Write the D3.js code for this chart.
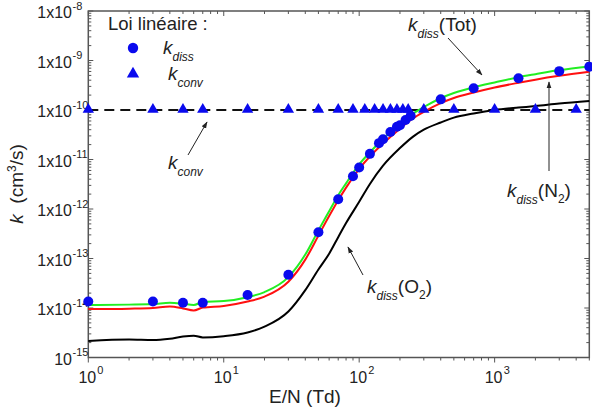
<!DOCTYPE html>
<html>
<head>
<meta charset="utf-8">
<script src="https://cdn.jsdelivr.net/npm/d3@7"></script>
<style>
  body { margin: 0; background: #fff; }
  svg { font-family: Arial, "Liberation Sans", sans-serif; }
</style>
</head>
<body>
<div id="chart"></div>
<script>
// E/N (Td) grid for the computed curves
var en_curve = [1, 2, 3, 4, 5, 6, 7, 10, 15, 20, 30, 40, 50, 60, 70, 80, 100, 120, 150, 200, 250, 300, 400, 500, 700, 1000, 1500, 2000, 3000, 5000];
var k_tot = [1.15e-14, 1.17e-14, 1.2e-14, 1.28e-14, 1.22e-14, 1.15e-14, 1.32e-14, 1.38e-14, 1.65e-14, 2.1e-14, 4.2e-14, 1.2e-13, 3.7e-13, 9e-13, 1.9e-12, 3.3e-12, 8e-12, 1.4e-11, 2.6e-11, 5.2e-11, 8.5e-11, 1.15e-10, 1.73e-10, 2.2e-10, 2.88e-10, 3.6e-10, 4.6e-10, 5.3e-10, 6.4e-10, 7.6e-10];
var k_n2 = [9.5e-15, 9.7e-15, 1.0e-14, 1.07e-14, 9.8e-15, 8.9e-15, 1.02e-14, 1.1e-14, 1.35e-14, 1.7e-14, 3.4e-14, 9.5e-14, 2.9e-13, 7.2e-13, 1.5e-12, 2.7e-12, 6.5e-12, 1.15e-11, 2.1e-11, 4.2e-11, 6.8e-11, 9.2e-11, 1.38e-10, 1.75e-10, 2.25e-10, 2.85e-10, 3.55e-10, 4.1e-10, 4.9e-10, 5.9e-10];
var k_o2 = [2.15e-15, 2.3e-15, 2.25e-15, 2.4e-15, 2.65e-15, 2.75e-15, 2.55e-15, 2.7e-15, 3.2e-15, 4.2e-15, 8.5e-15, 2.3e-14, 6e-14, 1.25e-13, 2.7e-13, 5.2e-13, 1.4e-12, 3.2e-12, 7.5e-12, 1.7e-11, 2.9e-11, 4e-11, 5.6e-11, 7e-11, 8.5e-11, 1.0e-10, 1.12e-10, 1.2e-10, 1.35e-10, 1.52e-10];

// linear law points
var en_diss = [1, 3, 5, 7, 15, 30, 50, 70, 90, 100, 120, 140, 150, 170, 190, 200, 220, 240, 400, 700, 1500, 3000, 5000];
var k_diss = [1.35e-14, 1.35e-14, 1.28e-14, 1.28e-14, 1.83e-14, 4.7e-14, 3.4e-13, 1.58e-12, 4.6e-12, 6.9e-12, 1.3e-11, 2.14e-11, 2.57e-11, 3.6e-11, 4.6e-11, 4.9e-11, 6.3e-11, 7.6e-11, 1.64e-10, 2.76e-10, 4.37e-10, 6.1e-10, 7.5e-10];
var en_conv = [1, 3, 5, 7, 15, 30, 50, 70, 90, 110, 130, 150, 170, 190, 210, 230, 300, 500, 1000, 2000, 4000];
var k_conv = en_conv.map(function(){ return 1e-10; });

var x_ticks = [1, 10, 100, 1000];
var x_tick_exp = ["0", "1", "2", "3"];
var y_ticks = [1e-15, 1e-14, 1e-13, 1e-12, 1e-11, 1e-10, 1e-9, 1e-8];
var y_tick_base = ["10", "1x10", "1x10", "1x10", "1x10", "1x10", "1x10", "1x10"];
var y_tick_exp = ["-15", "-14", "-13", "-12", "-11", "-10", "-9", "-8"];

var width = 592, height = 408;
var pl = 88.3, pr = 589.3, pt = 11, pb = 357.5;

var svg = d3.select("#chart").append("svg")
  .attr("width", width)
  .attr("height", height);

var x = d3.scaleLog().domain([1, 5000]).range([pl, pr]);
var y = d3.scaleLog().domain([1e-15, 1e-8]).range([pb, pt]);

function zip(xs, ys){ return xs.map(function(v, i){ return [v, ys[i]]; }); }

var line = d3.line()
  .x(function(d){ return x(d[0]); })
  .y(function(d){ return y(d[1]); })
  .curve(d3.curveMonotoneX);

// minor + major ticks, inward
var frameColor = "#555";
var g_ax = svg.append("g");
var xminor = [];
for (var dec = 1; dec <= 1000; dec *= 10)
  for (var m = 1; m < 10; m++) if (dec * m <= 5000) xminor.push(dec * m);
xminor.forEach(function(v){
  var major = x_ticks.indexOf(v) >= 0;
  var len = major ? 5 : 3;
  g_ax.append("line").attr("x1", x(v)).attr("x2", x(v)).attr("y1", pb).attr("y2", pb + len)
    .attr("stroke", frameColor).attr("stroke-width", 1);
  g_ax.append("line").attr("x1", x(v)).attr("x2", x(v)).attr("y1", pt).attr("y2", pt + len)
    .attr("stroke", frameColor).attr("stroke-width", 1);
});
var yminor = [];
y_ticks.forEach(function(t, i){
  if (i == y_ticks.length - 1) { yminor.push(t); return; }
  for (var m = 1; m < 10; m++) yminor.push(t * m);
});
yminor.forEach(function(v){
  var major = Math.abs(Math.log10(v) - Math.round(Math.log10(v))) < 1e-6;
  var len = major ? 5 : 3;
  g_ax.append("line").attr("x1", pl).attr("x2", pl + len).attr("y1", y(v)).attr("y2", y(v))
    .attr("stroke", frameColor).attr("stroke-width", 1);
  g_ax.append("line").attr("x1", pr).attr("x2", pr - len).attr("y1", y(v)).attr("y2", y(v))
    .attr("stroke", frameColor).attr("stroke-width", 1);
});

svg.append("rect")
  .attr("x", pl).attr("y", pt)
  .attr("width", pr - pl).attr("height", pb - pt)
  .attr("fill", "none").attr("stroke", frameColor).attr("stroke-width", 1.5);

// tick labels
x_ticks.forEach(function(v, i){
  svg.append("text").attr("x", x(v) - 1).attr("y", 383)
    .attr("text-anchor", "middle").attr("font-size", 16).attr("fill", "#222").text("10");
  svg.append("text").attr("x", x(v) + 9).attr("y", 374)
    .attr("font-size", 11).attr("fill", "#222").text(x_tick_exp[i]);
});
y_ticks.forEach(function(v, i){
  svg.append("text").attr("x", 72).attr("y", y(v) + 7)
    .attr("text-anchor", "end").attr("font-size", 16).attr("fill", "#222").text(y_tick_base[i]);
  svg.append("text").attr("x", 72.5).attr("y", y(v) - 1.5)
    .attr("font-size", 11).attr("fill", "#222").text(y_tick_exp[i]);
});

// axis titles
svg.append("text").attr("x", 305).attr("y", 403)
  .attr("text-anchor", "middle").attr("font-size", 19).attr("fill", "#222").text("E/N (Td)");
var yt = svg.append("text")
  .attr("transform", "translate(23,184) rotate(-90)")
  .attr("text-anchor", "middle").attr("font-size", 19).attr("fill", "#222");
yt.append("tspan").attr("font-style", "italic").text("k");
yt.append("tspan").text("\u00a0 (cm");
yt.append("tspan").attr("font-size", 12).attr("dy", -7).text("3");
yt.append("tspan").attr("dy", 7).text("/s)");

// dashed k_conv level
svg.append("line")
  .attr("x1", pl).attr("x2", pr)
  .attr("y1", y(1e-10)).attr("y2", y(1e-10))
  .attr("stroke", "#111").attr("stroke-width", 2).attr("stroke-dasharray", "10,6");

var curves = [
  {data: zip(en_curve, k_o2), color: "#000"},
  {data: zip(en_curve, k_n2), color: "#ff1010"},
  {data: zip(en_curve, k_tot), color: "#22ee22"}
];
svg.selectAll("path.curve")
  .data(curves)
  .enter().append("path")
  .attr("class", "curve")
  .attr("d", function(d){ return line(d.data); })
  .attr("fill", "none")
  .attr("stroke", function(d){ return d.color; })
  .attr("stroke-width", 2);

var blue = "#0a0aee";
var tri = d3.symbol().type(d3.symbolTriangle).size(56);
svg.append("g").selectAll("path")
  .data(zip(en_conv, k_conv))
  .enter().append("path")
  .attr("d", tri)
  .attr("transform", function(d){ return "translate(" + x(d[0]) + "," + (y(d[1]) - 0.5) + ")"; })
  .attr("fill", blue);

svg.append("g").selectAll("circle")
  .data(zip(en_diss, k_diss))
  .enter().append("circle")
  .attr("cx", function(d){ return x(d[0]); })
  .attr("cy", function(d){ return y(d[1]); })
  .attr("r", 5)
  .attr("fill", blue);

// legend
svg.append("text").attr("x", 108).attr("y", 30).attr("font-size", 18.5).attr("fill", "#222").text("Loi linéaire :");
svg.append("circle").attr("cx", 133).attr("cy", 48).attr("r", 5.2).attr("fill", blue);
svg.append("path").attr("d", d3.symbol().type(d3.symbolTriangle).size(66))
  .attr("transform", "translate(133,74)").attr("fill", blue);

function kLabel(px, py, sub, tail, tailSub){
  var t = svg.append("text").attr("x", px).attr("y", py).attr("font-size", 19).attr("fill", "#222");
  t.append("tspan").attr("font-style", "italic").text("k");
  t.append("tspan").attr("font-style", "italic").attr("font-size", 12).attr("dy", 7).text(sub);
  if (tail) {
    t.append("tspan").attr("dy", -7).text(tail);
    if (tailSub) {
      t.append("tspan").attr("font-size", 12).attr("dy", 6).text(tailSub);
      t.append("tspan").attr("dy", -6).text(")");
    }
  }
}
kLabel(163, 54, "diss");
kLabel(168, 80, "conv");
kLabel(168, 169, "conv");
kLabel(408, 31, "diss", "(Tot)");
kLabel(507, 197, "diss", "(N", "2");
kLabel(367, 293, "diss", "(O", "2");

// arrows
svg.append("defs").append("marker")
  .attr("id", "ah").attr("viewBox", "0 0 10 10").attr("refX", 9).attr("refY", 5)
  .attr("markerWidth", 7).attr("markerHeight", 7).attr("orient", "auto")
  .append("path").attr("d", "M0,1.5 L10,5 L0,8.5 Z").attr("fill", "#222");
var arrows = [[188, 155, 207, 122], [448, 38, 482, 75], [549, 171, 549, 82], [363, 275, 348, 247]];
svg.append("g").selectAll("line")
  .data(arrows)
  .enter().append("line")
  .attr("x1", function(d){ return d[0]; }).attr("y1", function(d){ return d[1]; })
  .attr("x2", function(d){ return d[2]; }).attr("y2", function(d){ return d[3]; })
  .attr("stroke", "#222").attr("stroke-width", 1)
  .attr("marker-end", "url(#ah)");
</script>
</body>
</html>
